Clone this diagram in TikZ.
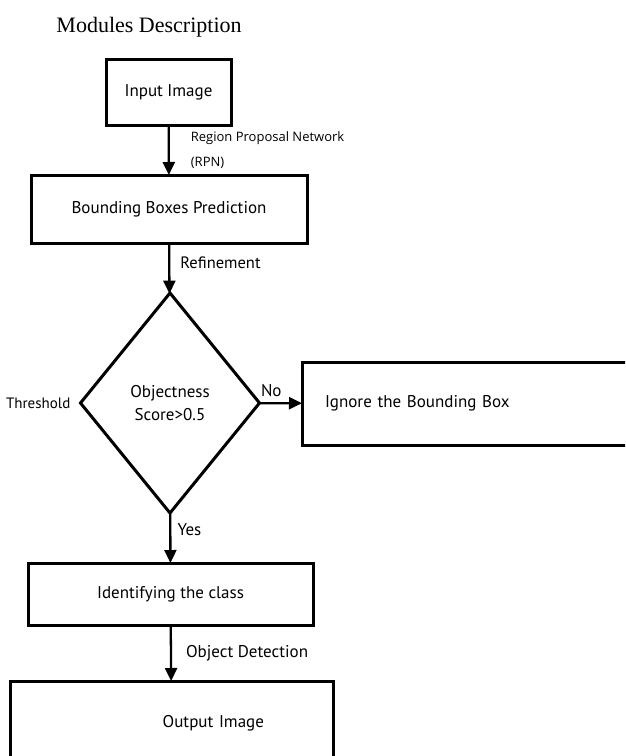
\documentclass[tikz,border=0pt]{standalone}
\usepackage{fontspec}
\setmainfont{PT Sans}
\newfontfamily\titlefont{Liberation Serif}
\newfontfamily\rpnfont{Open Sans}
\usetikzlibrary{positioning,shapes.geometric,arrows.meta}

\begin{document}
\begin{tikzpicture}[x=1pt,y=-1pt,->,>={Triangle[length=13pt,width=12pt]},
  line width=2.3pt,
  box/.style={rectangle,draw,line width=3pt,inner sep=0pt,outer sep=0pt,
    font=\fontsize{17}{20}\selectfont},
  decide/.style={diamond,draw,line width=3pt,inner sep=0pt,outer sep=0pt,
    minimum width=179pt,minimum height=220pt,align=center,
    font=\fontsize{17}{23}\selectfont},
  lbl/.style={inner sep=0pt,font=\fontsize{17}{20}\selectfont}]
  \clip (0,0) rectangle (625,756);
  \node[anchor=base west,font=\titlefont\fontsize{22}{26}\selectfont] (title) at (52,32) {Modules Description};
  \node[box,minimum width=125pt,minimum height=66pt] (input) at (168.5,92) {Input Image};
  \node[box,minimum width=276pt,minimum height=68pt] (bbox) at (169,209) {Bounding Boxes Prediction};
  \node[decide] (dec) at (170,403) {Objectness\\Score>0.5};
  \node[box,anchor=west,minimum height=83pt,text width=300pt,align=left,inner xsep=23pt] (ignore) at (302,403.5) {Ignore the Bounding Box};
  \node[box,minimum width=285pt,minimum height=62pt] (ident) at (170.5,594) {Identifying the class};
  \node[box,minimum height=84pt,text width=185pt,align=right,inner xsep=69pt] (output) at (171.5,723) {Output Image};
  \node[lbl,left=9pt of dec.west,font=\fontsize{15}{18}\selectfont] (thr) {Threshold};
  \path
    (input) edge node[lbl,right=21pt,align=left,font=\rpnfont\fontsize{13}{25}\selectfont] {Region Proposal Network\\(RPN)} (bbox)
    (bbox) edge node[lbl,right=10pt,yshift=6pt,font=\fontsize{16.5}{20}\selectfont] {Refinement} (dec)
    (dec) edge node[lbl,above=5pt,pos=0.28] {No} (ignore)
    (dec) edge node[lbl,right=6pt,yshift=8pt] {Yes} (ident)
    (ident) edge node[lbl,right=14pt] {Object Detection} (output)
;
\end{tikzpicture}
\end{document}
